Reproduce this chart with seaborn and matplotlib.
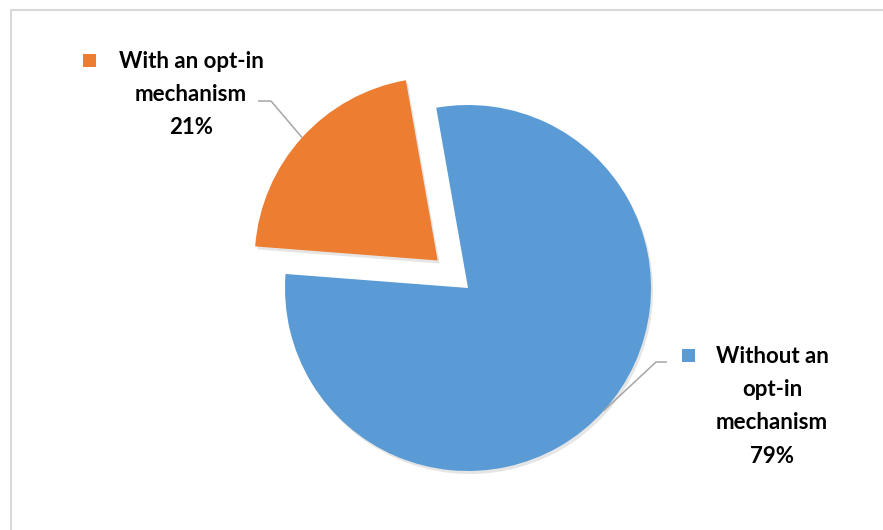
import numpy as np
import matplotlib
matplotlib.use('Agg')
import matplotlib.pyplot as plt
import seaborn as sns
from matplotlib.patches import Rectangle

# data
categories = ['Without an\nopt-in\nmechanism', 'With an opt-in\nmechanism']
shares = [79, 21]
colors = ['#5B9BD5', '#ED7D31']

sns.set_theme(style='white')
plt.rcParams['font.family'] = ['Lato', 'DejaVu Sans']

W, H = 883, 530
fig = plt.figure(figsize=(W / 100, H / 100), dpi=100)
ax = fig.add_axes([0, 0, 1, 1])

center = (468, H - 288)
radius = 183
explode = [0, 41]  # pixel offset of the pulled-out slice
start = 100

# faint shadow under the pie
ax.pie(shares, colors=['#000000'] * 2, startangle=start, counterclock=False,
       explode=explode, center=(center[0] + 2, center[1] - 3), radius=radius,
       wedgeprops=dict(alpha=0.10, linewidth=0), frame=True)
wedges, _ = ax.pie(shares, colors=colors, startangle=start, counterclock=False,
                   explode=explode, center=center, radius=radius,
                   wedgeprops=dict(linewidth=0), frame=True)
ax.set_xlim(0, W)
ax.set_ylim(0, H)
ax.axis('off')

# label positions (pixel coords, top of text block) and leader-line bends
label_pos = [(772, H - 346), (191, H - 51)]
bend = [(656, H - 362), (271, H - 101)]
tail = [(667, H - 362), (258, H - 101)]
key_pos = [(688, H - 355), (89, H - 60)]

for w, lab, share, lp, bp, tp, kp, c in zip(wedges, categories, shares,
                                            label_pos, bend, tail, key_pos, colors):
    mid = np.deg2rad((w.theta1 + w.theta2) / 2)
    cx, cy = w.center
    px = cx + w.r * np.cos(mid)
    py = cy + w.r * np.sin(mid)
    ax.plot([px, bp[0], tp[0]], [py, bp[1], tp[1]], color='#A6A6A6', lw=1.1,
            solid_capstyle='butt')
    ax.text(lp[0], lp[1], f'{lab}\n{share}%', ha='center', va='top',
            fontsize=16, fontweight='bold', color='#000000', linespacing=1.72)
    ax.add_patch(Rectangle((kp[0] - 6.5, kp[1] - 6.5), 13, 13, color=c, lw=0))

# chart area border
fig.patches.append(Rectangle((11 / W, -0.1), 1.2, 1 - 10 / H + 0.1,
                             transform=fig.transFigure, fill=False,
                             edgecolor='#D9D9D9', lw=1.5))

fig.savefig('out.png', dpi=100, facecolor='white')
